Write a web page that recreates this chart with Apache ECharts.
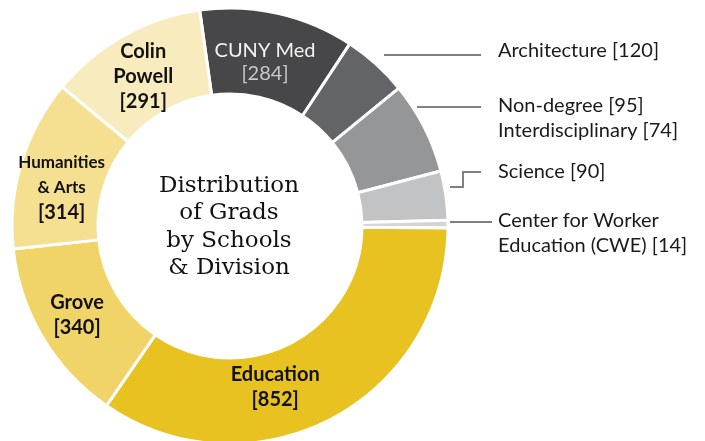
<!DOCTYPE html>
<html>
<head>
<meta charset="utf-8">
<script src="https://cdn.jsdelivr.net/npm/echarts@6/dist/echarts.min.js"></script>
<style>
  html, body { margin: 0; padding: 0; background: #fff; }
  #chart { width: 705px; height: 441px; }
</style>
</head>
<body>
<div id="chart"></div>
<script>
// slice labels, clockwise from the top
const names = ['CUNY Med', 'Architecture', 'Non-degree', 'Interdisciplinary', 'Science',
  'Center for Worker\nEducation (CWE)', 'Education', 'Grove', 'Humanities\n& Arts', 'Colin\nPowell']
const values = [284, 120, 95, 74, 90, 14, 852, 340, 314, 291]
// Non-degree and Interdisciplinary share one slice
const sliceGroups = [[0], [1], [2, 3], [4], [5], [6], [7], [8], [9]]
const colors = ['#474648', '#636467', '#959698', '#c2c3c5', '#d4d4d6',
  '#e8c221', '#f0d468', '#f5df90', '#f8ecbe']

// outside labels: text position + leader line
const outside = {
  1: { x: 498, y: 51, line: [[384, 55], [481, 55]] },
  2: { x: 498, y: 118, line: [[417, 107], [481, 107]] },
  3: { x: 498, y: 172, line: [[450, 187], [463, 187], [463, 172], [481, 172]] },
  4: { x: 498, y: 233, line: [[450, 222], [492, 222]] }
}
// small nudges for the inside labels
const nudge = { 0: [-4, 10], 5: [-37, 3], 6: [0, -2], 7: [2, 13], 8: [0, 6] }

const data = sliceGroups.map((g, i) => {
  const val = g.reduce((s, k) => s + values[k], 0)
  const isOut = outside[i] !== undefined
  let text
  if (isOut) {
    text = g.map(k => names[k] + ' [' + values[k] + ']').join('\n')
  } else if (i === 0) {
    text = '{w|' + names[0] + '}\n{g|[' + values[0] + ']}'
  } else if (names[g[0]].startsWith('Humanities')) {
    text = '{s|' + names[g[0]].replace('\n', '}\n{s|') + '}\n{b|[' + values[g[0]] + ']}'
  } else {
    text = names[g[0]].split('\n').map(t => '{b|' + t + '}').join('\n') + '\n{b|[' + values[g[0]] + ']}'
  }
  return {
    name: g.map(k => names[k]).join(' / '),
    value: val,
    itemStyle: { color: colors[i] },
    label: isOut
      ? { position: 'outside', formatter: text, color: '#1a1a1a', fontSize: 20, lineHeight: 25, fontFamily: 'Lato' }
      : { position: 'inside', formatter: text },
    labelLine: { show: isOut, lineStyle: { color: '#808080', width: 2 } }
  }
})

const chart = echarts.init(document.getElementById('chart'))
chart.setOption({
  animation: false,
  graphic: [{
    type: 'text',
    x: 229,
    y: 227,
    style: {
      text: 'Distribution\nof Grads\nby Schools\n& Division',
      align: 'center',
      verticalAlign: 'middle',
      font: '23px "DejaVu Serif"',
      lineHeight: 27.5,
      fill: '#111'
    }
  }],
  series: [{
    type: 'pie',
    center: [230, 226],
    radius: [132, 218],
    startAngle: 98,
    clockwise: true,
    avoidLabelOverlap: false,
    itemStyle: { borderColor: '#fff', borderWidth: 3 },
    emphasis: { disabled: true },
    label: {
      fontFamily: 'Lato',
      rich: {
        w: { color: '#f2f2f2', fontSize: 20, lineHeight: 23, fontFamily: 'Lato' },
        g: { color: '#c8c8c8', fontSize: 20, lineHeight: 23, fontFamily: 'Lato' },
        b: { color: '#111', fontSize: 20, fontWeight: 'bold', lineHeight: 25, fontFamily: 'Lato' },
        s: { color: '#111', fontSize: 17, fontWeight: 'bold', lineHeight: 25, fontFamily: 'Lato' }
      }
    },
    labelLayout: function (p) {
      const o = outside[p.dataIndex]
      if (o) return { x: o.x, y: o.y, align: 'left', verticalAlign: 'middle', labelLinePoints: o.line }
      const n = nudge[p.dataIndex]
      if (n) return { dx: n[0], dy: n[1] }
      return {}
    },
    data: data
  }]
})
</script>
</body>
</html>
